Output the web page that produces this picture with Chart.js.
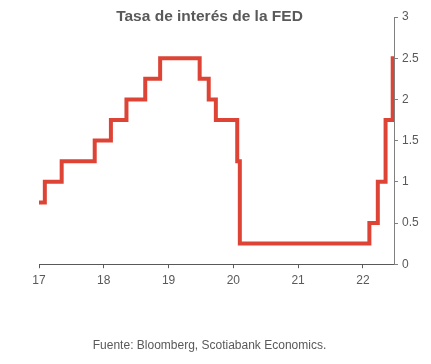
<!DOCTYPE html>
<html>
<head>
<meta charset="utf-8">
<script src="https://cdn.jsdelivr.net/npm/chart.js@4"></script>
<style>
  html, body { margin: 0; padding: 0; background: #ffffff; }
  #wrap { width: 431px; height: 364px; }
</style>
</head>
<body>
<div id="wrap"><canvas id="c" width="431" height="364"></canvas></div>
<script>
// Dates (year, 2-digit as decimal) when the rate changed, and the new rate
const changeDates = [17.0, 17.09, 17.35, 17.86, 18.11, 18.35, 18.64, 18.87, 19.48, 19.62, 19.73, 20.06, 20.10, 22.10, 22.23, 22.35, 22.46, 22.48];
const rateValues  = [0.75, 1.0,   1.25,  1.5,   1.75,  2.0,   2.25,  2.5,   2.25,  2.0,   1.75,  1.25,  0.25,  0.5,   1.0,   1.75,  2.5,   2.5];
const xTickLabels = ['17', '18', '19', '20', '21', '22'];
const yTickLabels = ['0', '0.5', '1', '1.5', '2', '2.5', '3'];
const chartTitle = 'Tasa de interés de la FED';
const sourceNote = 'Fuente: Bloomberg, Scotiabank Economics.';

const points = changeDates.map((d, i) => ({ x: d, y: rateValues[i] }));
const grey = '#595959';

new Chart(document.getElementById('c'), {
  type: 'line',
  data: {
    datasets: [{
      data: points,
      stepped: 'before',
      borderColor: '#DD4436',
      borderWidth: 4,
      pointRadius: 0,
      fill: false,
      borderCapStyle: 'butt',
      borderJoinStyle: 'miter',
      yAxisID: 'y'
    }]
  },
  options: {
    responsive: false,
    animation: false,
    devicePixelRatio: 1,
    layout: { padding: { left: 0, right: 12, top: 0, bottom: 0 } },
    plugins: {
      legend: { display: false },
      tooltip: { enabled: false },
      title: {
        display: true,
        text: chartTitle,
        color: grey,
        font: { family: 'Liberation Sans, Arial, sans-serif', size: 15.5, weight: 'bold' },
        padding: { top: 7, bottom: -8.6 }
      },
      subtitle: {
        display: true,
        position: 'bottom',
        text: sourceNote,
        color: grey,
        font: { family: 'Liberation Sans, Arial, sans-serif', size: 12 },
        padding: { top: 46, bottom: 11 }
      }
    },
    scales: {
      x: {
        type: 'linear',
        min: 17,
        max: 22.48,
        afterBuildTicks: (s) => { s.ticks = xTickLabels.map(v => ({ value: Number(v) })); },
        ticks: {
          color: grey,
          font: { family: 'Liberation Sans, Arial, sans-serif', size: 12 },
          padding: 5,
          maxRotation: 0,
          callback: (v) => String(v)
        },
        grid: { drawOnChartArea: false, drawTicks: true, tickLength: 4, color: '#595959' },
        border: { display: true, color: '#595959', width: 1 }
      },
      y: {
        position: 'right',
        min: 0,
        max: 3,
        afterBuildTicks: (s) => { s.ticks = yTickLabels.map(v => ({ value: Number(v) })); },
        afterFit: (s) => { s.width = 25; },
        ticks: {
          color: grey,
          font: { family: 'Liberation Sans, Arial, sans-serif', size: 12 },
          padding: 4,
          callback: (v) => String(v)
        },
        grid: { drawOnChartArea: false, drawTicks: true, tickLength: 4, color: '#808080' },
        border: { display: true, color: '#808080', width: 1 }
      },
      yLeft: {
        position: 'left',
        min: 0,
        max: 3,
        afterFit: (s) => { s.width = 39; },
        ticks: { display: false },
        grid: { display: false, drawTicks: false },
        border: { display: false }
      }
    }
  }
});
</script>
</body>
</html>
